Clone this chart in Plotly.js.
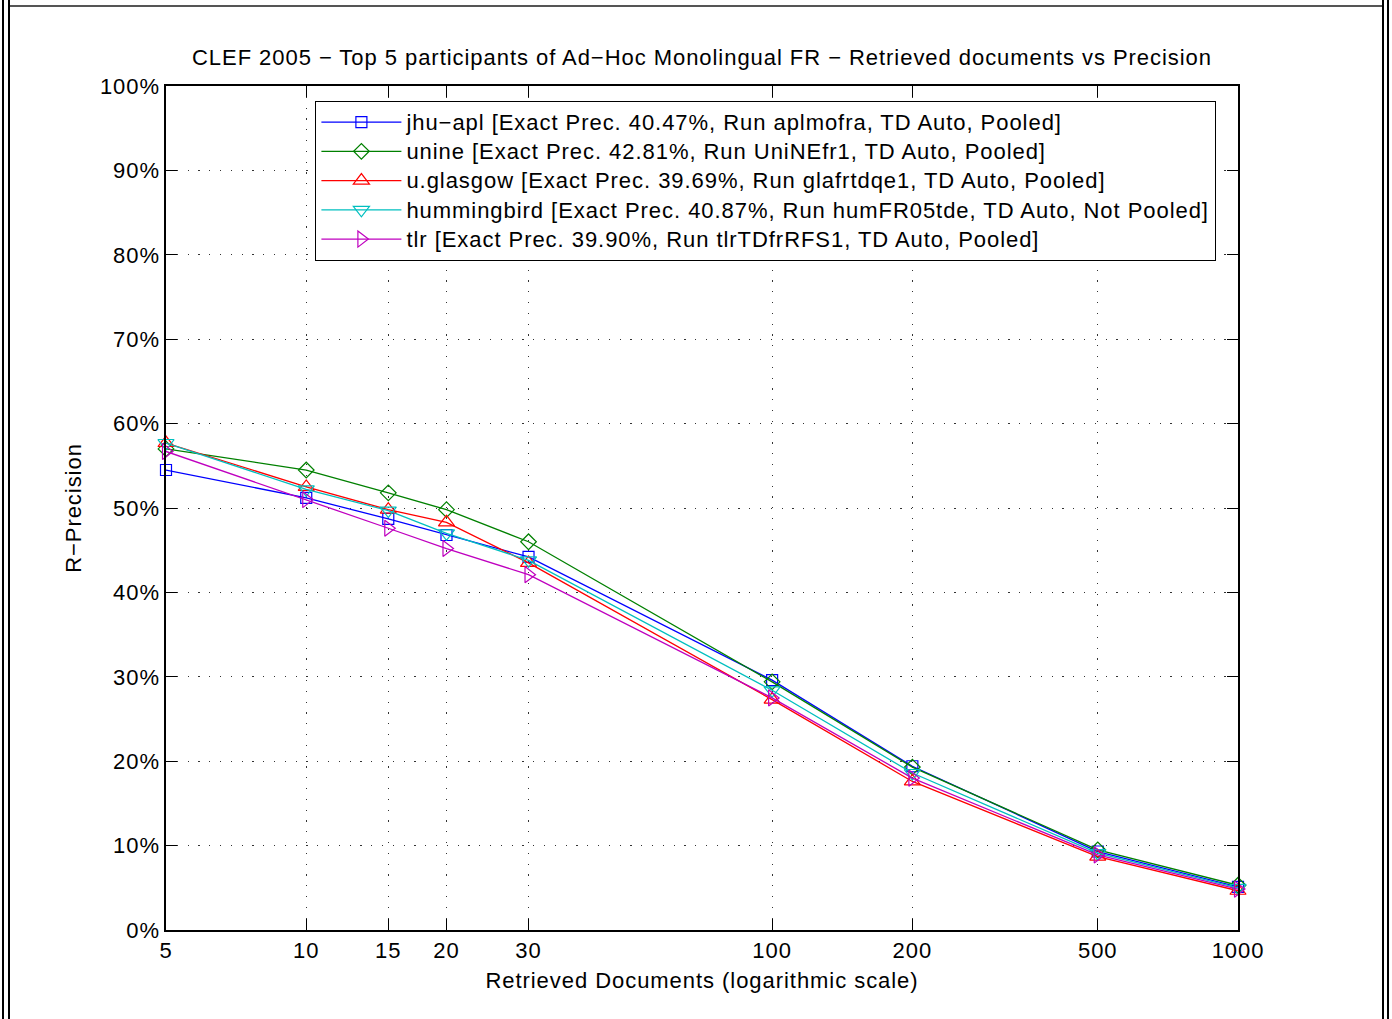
<!DOCTYPE html>
<html>
<head>
<meta charset="utf-8">
<script src="https://cdn.plot.ly/plotly-3.0.1.min.js"></script>
<style>
  html, body { margin: 0; padding: 0; background: #fff; }
  #wrap { position: relative; width: 1392px; height: 1019px; overflow: hidden; }
  #chart { position: absolute; left: 0; top: 0; width: 1392px; height: 1019px; }
  .bl { position: absolute; background: #000; }
  text { letter-spacing: 0.95px; }
  text.legendtext { font-size: 22px !important; }
</style>
</head>
<body>
<div id="wrap">
  <div id="chart"></div>
  <div class="bl" style="left:2px;top:0;width:2px;height:1019px;"></div>
  <div class="bl" style="left:8px;top:0;width:2px;height:1019px;"></div>
  <div class="bl" style="left:1382px;top:0;width:2px;height:1019px;"></div>
  <div class="bl" style="left:1387px;top:0;width:2px;height:1019px;"></div>
  <div class="bl" style="left:10px;top:5px;width:1372px;height:2px;background:#555;"></div>
</div>
<script>
// Retrieved documents (x, log scale)
const docs = [5, 10, 15, 20, 30, 100, 200, 500, 1000];

// R-Precision (%) per participant
const jhuApl     = [54.5, 51.2, 48.7, 46.8, 44.2, 29.6, 19.4, 9.3, 5.1];
const unine      = [57.0, 54.5, 51.8, 49.8, 46.0, 29.4, 19.3, 9.5, 5.3];
const uGlasgow   = [57.7, 52.5, 49.8, 48.3, 43.5, 27.3, 17.6, 8.7, 4.65];
const hummingbird= [57.7, 52.2, 49.7, 47.0, 43.8, 28.4, 18.6, 9.1, 5.0];
const tlr        = [56.7, 51.0, 47.6, 45.2, 42.1, 27.5, 18.0, 8.9, 4.85];

const seriesNames = [
  'jhu\u2212apl [Exact Prec. 40.47%, Run aplmofra, TD Auto, Pooled]',
  'unine [Exact Prec. 42.81%, Run UniNEfr1, TD Auto, Pooled]',
  'u.glasgow [Exact Prec. 39.69%, Run glafrtdqe1, TD Auto, Pooled]',
  'hummingbird [Exact Prec. 40.87%, Run humFR05tde, TD Auto, Not Pooled]',
  'tlr [Exact Prec. 39.90%, Run tlrTDfrRFS1, TD Auto, Pooled]'
];

const xTickVals = [5, 10, 15, 20, 30, 100, 200, 500, 1000];
const xTickText = ['5', '10', '15', '20', '30', '100', '200', '500', '1000'];
const yTickVals = [0, 10, 20, 30, 40, 50, 60, 70, 80, 90, 100];
const yTickText = ['0%', '10%', '20%', '30%', '40%', '50%', '60%', '70%', '80%', '90%', '100%'];

const seriesValues = [jhuApl, unine, uGlasgow, hummingbird, tlr];
const colors = ['#0000ff', '#008000', '#ff0000', '#00bfbf', '#bf00bf'];
const symbols = ['square-open', 'diamond-open', 'triangle-up-open', 'triangle-down-open', 'triangle-right-open'];
const sizes = [11, 12, 14, 14, 14];

const traces = seriesValues.map((vals, i) => ({
  type: 'scatter',
  mode: 'lines+markers',
  x: docs,
  y: vals,
  name: seriesNames[i],
  cliponaxis: false,
  line: { color: colors[i], width: 1.3 },
  marker: { symbol: symbols[i], size: sizes[i], color: colors[i], line: { color: colors[i], width: 1.2 } }
}));

const FONT = 'Liberation Sans, Arial, Helvetica, sans-serif';
const EPS = 1e-6;

const layout = {
  width: 1392,
  height: 1019,
  margin: { l: 166, r: 154, t: 86, b: 89, pad: 0 },
  paper_bgcolor: '#ffffff',
  plot_bgcolor: '#ffffff',
  font: { family: FONT, size: 22, color: '#000' },
  title: {
    text: 'CLEF 2005 \u2212 Top 5 participants of Ad\u2212Hoc Monolingual FR \u2212 Retrieved documents vs Precision',
    font: { family: FONT, size: 22, color: '#000' },
    x: 0.5, xref: 'paper', xanchor: 'center',
    y: 1 - 57 / 1019, yref: 'container', yanchor: 'middle'
  },
  xaxis: {
    type: 'log',
    range: [Math.log10(5) - EPS, Math.log10(1000) + EPS],
    tickmode: 'array',
    tickvals: xTickVals,
    ticktext: xTickText,
    ticks: 'inside',
    ticklen: 11,
    tickwidth: 1,
    tickcolor: '#000',
    showline: true,
    linecolor: '#000',
    linewidth: 1.6,
    mirror: 'ticks',
    showgrid: true,
    gridcolor: '#333',
    gridwidth: 1,
    griddash: '1.2px,9.6px',
    zeroline: false,
    tickfont: { family: FONT, size: 22, color: '#000' },
    title: { text: 'Retrieved Documents (logarithmic scale)', font: { family: FONT, size: 22, color: '#000' }, standoff: 10 }
  },
  yaxis: {
    range: [0, 100],
    tickmode: 'array',
    tickvals: yTickVals,
    ticktext: yTickText,
    ticks: 'inside',
    ticklen: 11,
    tickwidth: 1,
    tickcolor: '#000',
    showline: true,
    linecolor: '#000',
    linewidth: 1.6,
    mirror: 'ticks',
    showgrid: true,
    gridcolor: '#333',
    gridwidth: 1,
    griddash: '1.2px,9.6px',
    zeroline: false,
    tickfont: { family: FONT, size: 22, color: '#000' },
    title: { text: 'R\u2212Precision', font: { family: FONT, size: 22, color: '#000' }, standoff: 12 }
  },
  showlegend: true,
  legend: {
    x: (315 - 166) / 1072,
    y: (930 - 101) / 844,
    xanchor: 'left',
    yanchor: 'top',
    bgcolor: '#ffffff',
    bordercolor: '#000',
    borderwidth: 1.4,
    font: { family: FONT, size: 20.2, color: '#000' },
    itemwidth: 80,
    tracegroupgap: 0
  }
};

Plotly.newPlot('chart', traces, layout, { displayModeBar: false, staticPlot: true });
</script>
</body>
</html>
